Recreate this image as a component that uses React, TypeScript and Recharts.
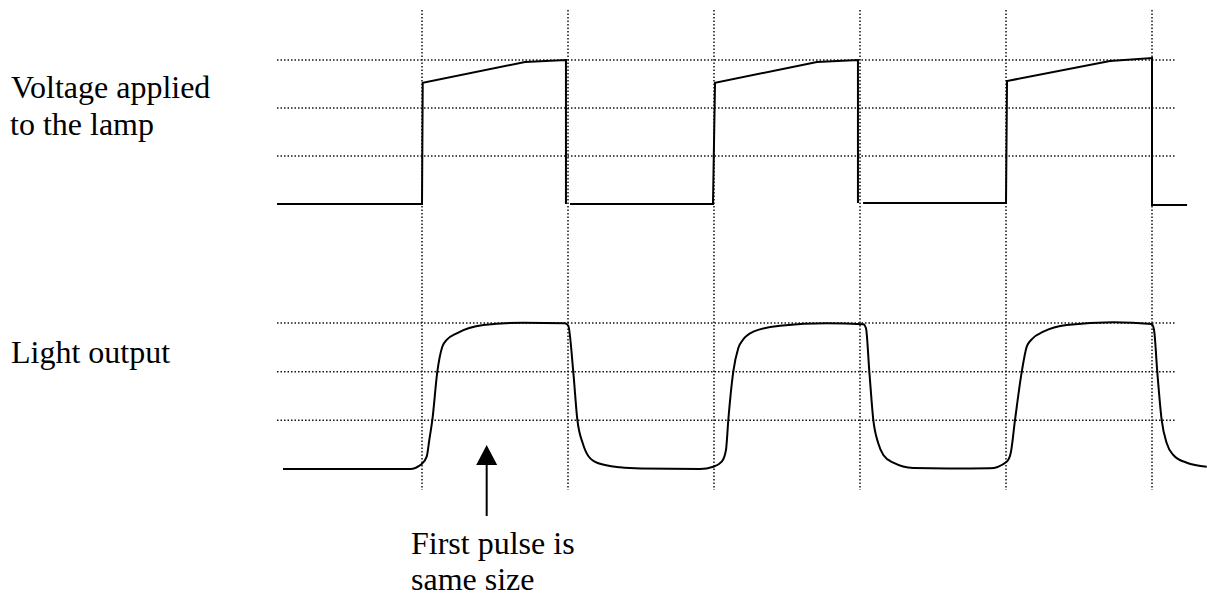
import React from 'react';
import { ComposedChart, Line, XAxis, YAxis, ReferenceLine, ReferenceDot } from 'recharts';

const W = 1207;
const H = 601;

// Time measured in grid divisions (the dotted vertical lines sit at whole divisions)
const divisionTimes = [1, 2, 3, 4, 5, 6];
// Horizontal dotted levels (in grid divisions above each trace's baseline)
const gridLevels = [1, 2, 3];
const gridStart = 0.007;
const gridEnd = 6.16;

// Voltage applied to the lamp (null = pen lift)
const voltageT = [0.007, 1.0, 1.005, 1.705, 1.986, 1.986, 2.0, 2.014, 2.993, 3.007, 3.705, 3.986, 3.986, 4.0, 4.021, 5.0, 5.007, 5.712, 6.0, 6.0, 6.24];
const voltageV = [0, 0, 2.527, 2.958, 3.0, 0, null, 0, 0, 2.527, 2.958, 3.0, 0.021, null, 0.021, 0.021, 2.562, 2.979, 3.042, -0.021, -0.021];

// Light output
const lightT = [
  0.048, 0.918, 0.998, 1.032, 1.05, 1.071, 1.105, 1.139, 1.169, 1.238, 1.42, 1.694, 1.979,
  2.002, 2.036, 2.064, 2.101, 2.139, 2.208, 2.356, 2.5, 2.904,
  2.995, 3.053, 3.082, 3.098, 3.132, 3.166, 3.201, 3.269, 3.452, 3.772, 4.023,
  4.041, 4.064, 4.091, 4.125, 4.16, 4.228, 4.365, 4.6, 4.89,
  5.005, 5.032, 5.062, 5.108, 5.142, 5.176, 5.256, 5.416, 5.735, 5.998,
  6.014, 6.036, 6.066, 6.101, 6.146, 6.238, 6.375,
];
const lightL = [
  0, 0, 0.103, 0.253, 0.596, 1.013, 1.999, 2.513, 2.651, 2.788, 2.959, 3.006, 2.994,
  2.944, 1.999, 1.013, 0.528, 0.267, 0.117, 0.035, 0.01, 0,
  0.047, 0.15, 0.39, 1.007, 1.999, 2.48, 2.665, 2.821, 2.944, 2.994, 2.973,
  2.891, 1.999, 1.013, 0.528, 0.288, 0.129, 0.021, 0.012, 0.014,
  0.15, 0.323, 1.013, 1.999, 2.513, 2.665, 2.821, 2.959, 3.014, 2.979,
  2.856, 1.999, 1.013, 0.528, 0.288, 0.129, 0.047,
];

// Annotation arrow (in light-output units)
const arrowT = 1.443;
const arrowTipL = 0.493;
const arrowTailL = -0.966;

const labels = [
  { text: 'Voltage applied', x: 11, y: 98 },
  { text: 'to the lamp', x: 10, y: 135 },
  { text: 'Light output', x: 11, y: 363 },
  { text: 'First pulse is', x: 411, y: 554 },
  { text: 'same size', x: 411, y: 590 },
];

const voltageData = voltageT.map((t, i) => ({ t, v: voltageV[i] }));
const lightData = lightT.map((t, i) => ({ t, l: lightL[i] }));

const gridColor = '#111';
const dash = '1.5 2';

const ArrowHead = (props: any) => {
  const { cx, cy } = props;
  if (cx == null || cy == null) return null;
  return <polygon points={`${cx},${cy} ${cx - 10.5},${cy + 20} ${cx + 10.5},${cy + 20}`} fill="#000" />;
};

export default function App() {
  return (
    <div style={{ position: 'absolute', left: 0, top: 0, width: W, height: H, background: '#fff' }}>
      <ComposedChart width={W} height={H} margin={{ top: 0, right: 0, bottom: 0, left: 0 }}>
        <XAxis type="number" dataKey="t" domain={[-1.8904, 6.3767]} allowDataOverflow hide />
        <YAxis yAxisId="v" type="number" domain={[-8.271, 4.25]} allowDataOverflow hide />
        <YAxis yAxisId="l" type="number" domain={[-2.712, 9.636]} allowDataOverflow hide />

        {divisionTimes.map((t) => (
          <ReferenceLine
            key={`vx${t}`}
            yAxisId="v"
            segment={[{ x: t, y: 4.04 }, { x: t, y: -5.96 }]}
            stroke={gridColor}
            strokeWidth={1.5}
            strokeDasharray={dash}
          />
        ))}
        {gridLevels.map((k) => (
          <ReferenceLine
            key={`hv${k}`}
            yAxisId="v"
            segment={[{ x: gridStart, y: k }, { x: gridEnd, y: k }]}
            stroke={gridColor}
            strokeWidth={1.5}
            strokeDasharray={dash}
          />
        ))}
        {gridLevels.map((k) => (
          <ReferenceLine
            key={`hl${k}`}
            yAxisId="l"
            segment={[{ x: gridStart, y: k }, { x: gridEnd, y: k }]}
            stroke={gridColor}
            strokeWidth={1.5}
            strokeDasharray={dash}
          />
        ))}

        <Line
          yAxisId="v"
          data={voltageData}
          dataKey="v"
          type="linear"
          stroke="#000"
          strokeWidth={2}
          dot={false}
          activeDot={false}
          connectNulls={false}
          isAnimationActive={false}
        />
        <Line
          yAxisId="l"
          data={lightData}
          dataKey="l"
          type="monotone"
          stroke="#000"
          strokeWidth={2}
          dot={false}
          activeDot={false}
          isAnimationActive={false}
        />

        <ReferenceLine
          yAxisId="l"
          segment={[{ x: arrowT, y: arrowTailL }, { x: arrowT, y: arrowTipL - 0.3 }]}
          stroke="#000"
          strokeWidth={2}
        />
        <ReferenceDot yAxisId="l" x={arrowT} y={arrowTipL} r={1} shape={ArrowHead} />
      </ComposedChart>
      <svg width={W} height={H} style={{ position: 'absolute', left: 0, top: 0, pointerEvents: 'none' }}>
        {labels.map((lb) => (
          <text
            key={lb.text}
            x={lb.x}
            y={lb.y}
            fontFamily="'Liberation Serif', 'Times New Roman', serif"
            fontSize={32}
            fill="#000"
          >
            {lb.text}
          </text>
        ))}
      </svg>
    </div>
  );
}
